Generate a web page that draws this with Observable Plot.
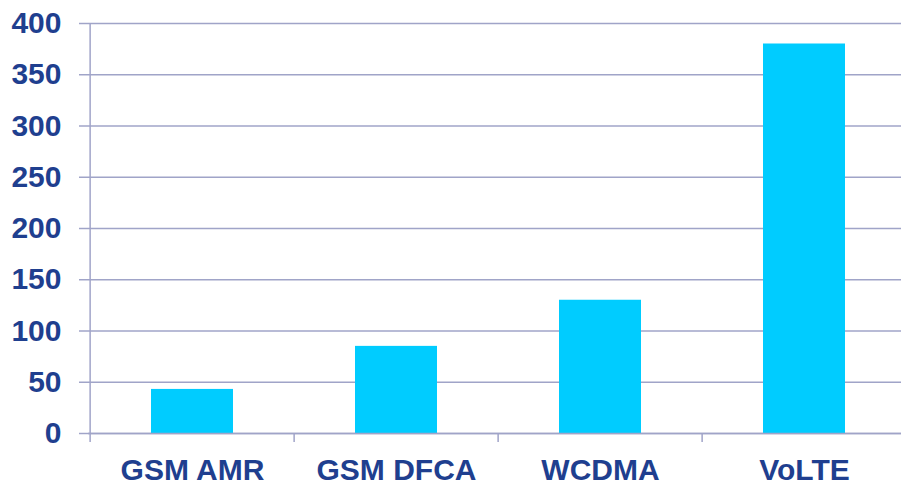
<!DOCTYPE html>
<html>
<head>
<meta charset="utf-8">
<script src="https://cdn.jsdelivr.net/npm/d3@7"></script>
<script src="https://cdn.jsdelivr.net/npm/@observablehq/plot@0.6"></script>
<style>
  html, body { margin: 0; padding: 0; background: #fff; }
  #chart svg { display: block; }
</style>
</head>
<body>
<div id="chart"></div>
<script>
const categories = ["GSM AMR", "GSM DFCA", "WCDMA", "VoLTE"];
const values = [43, 85, 130, 380];
const yTicks = [0, 50, 100, 150, 200, 250, 300, 350, 400];

const data = categories.map((c, i) => ({category: c, value: values[i]}));

const W = 901, H = 484;
const left = 88, right = 907;
const bandwidth = (right - left) / categories.length;
const gridColor = "#a0a4c8";
const textColor = "#1f3f8f";
const font = "'Liberation Sans', Arial, sans-serif";

const chart = Plot.plot({
  width: W,
  height: H,
  marginLeft: left,
  marginRight: 0,
  marginTop: 23,
  marginBottom: 51,
  style: {fontFamily: font, background: "#fff", overflow: "visible"},
  x: {domain: categories, range: [left, right], paddingInner: 0.6, paddingOuter: 0.3, label: null},
  y: {domain: [0, 400], label: null},
  marks: [
    Plot.ruleY(yTicks, {y: d => d, stroke: gridColor, strokeWidth: 1.5}),
    Plot.barY(data, {x: "category", y: "value", fill: "#00ccff", inset: 0}),
    // category boundary ticks below the baseline
    Plot.axisX({
      ticks: categories,
      tickSize: 9,
      tickFormat: () => "",
      stroke: gridColor,
      strokeWidth: 1.5,
      dx: -bandwidth / 2
    }),
    Plot.axisX({
      ticks: categories,
      tickSize: 0,
      tickPadding: 25,
      fontSize: 30,
      fontWeight: "bold",
      fill: textColor
    }),
    Plot.axisY({
      ticks: yTicks,
      tickSize: 9,
      tickPadding: 18,
      fontSize: 30,
      fontWeight: "bold",
      fill: textColor,
      stroke: gridColor,
      strokeWidth: 1.5
    }),
    Plot.ruleX([categories[0]], {x: d => d, y1: 0, y2: 400, dx: -bandwidth / 2, stroke: gridColor, strokeWidth: 1.5}),
    Plot.ruleY([0], {stroke: gridColor, strokeWidth: 1.5})
  ]
});
document.getElementById("chart").appendChild(chart);
</script>
</body>
</html>
